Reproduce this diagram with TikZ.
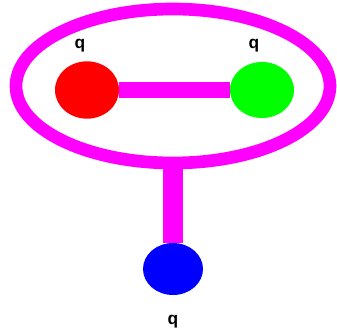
\documentclass[tikz,border=0pt]{standalone}
\usepackage{fontspec}
\setmainfont{Liberation Sans}
\usetikzlibrary{shapes.geometric}
\definecolor{mag}{RGB}{255,0,255}
\definecolor{qred}{RGB}{255,0,0}
\definecolor{qgreen}{RGB}{0,255,0}
\definecolor{qblue}{RGB}{0,0,255}
\begin{document}
\begin{tikzpicture}[x=0.75pt,y=-0.75pt,
   quark/.style={ellipse,inner sep=0pt,minimum width=48pt,minimum height=43pt},
   ring/.style={ellipse,draw=mag,line width=9.5pt,inner sep=0pt},
   bond/.style={draw=mag,line width=11.5pt},
   lbl/.style={font=\bfseries\fontsize{13}{15}\selectfont,inner sep=0pt}]
\useasboundingbox (0,0) rectangle (337,336);
% outer bag and its stem
\node[ring,minimum width=235.5pt,minimum height=115.5pt] (bag) at (173,86) {};
\node[quark,fill=qblue,minimum width=45pt,minimum height=39pt] (qb) at (173,269) {};
\draw[bond,line width=15pt] (bag.south) -- (qb.north);
% the two quarks inside
\node[quark,fill=qred] (qr) at (87,90) {};
\node[quark,fill=qgreen,minimum height=42pt] (qg) at (262,90) {};
\draw[bond] (qr) -- (qg);
% labels
\node[lbl] (lr) at (80,46) {q};
\node[lbl] (lg) at (254,46) {q};
\node[lbl] (lb) at (173,322) {q};
\end{tikzpicture}
\end{document}
